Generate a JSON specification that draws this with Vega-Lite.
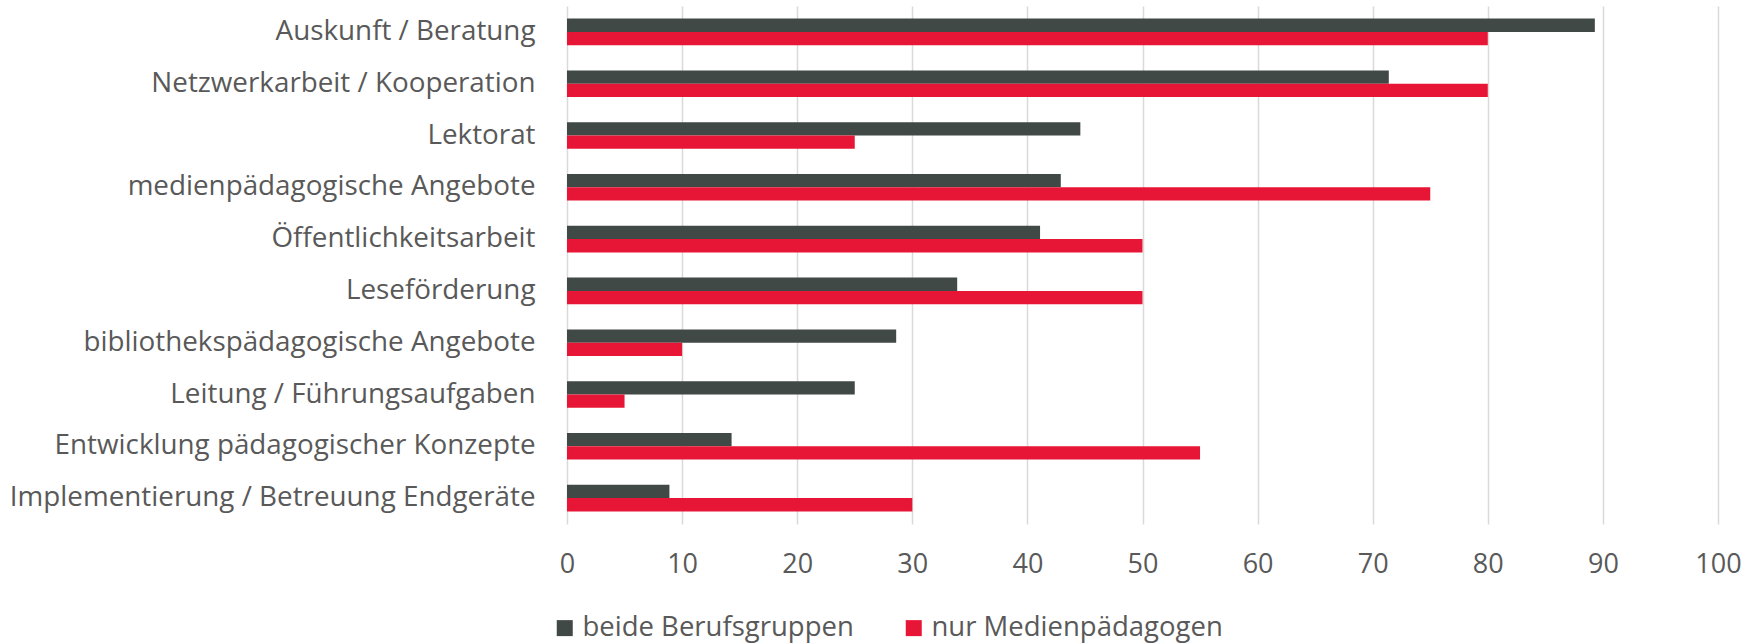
{
  "$schema": "https://vega.github.io/schema/vega-lite/v6.json",
  "width": 1151,
  "height": 518,
  "autosize": {"type": "none"},
  "padding": {"left": 567, "top": 6, "right": 40, "bottom": 120},
  "background": "white",
  "config": {
    "view": {"stroke": null},
    "font": "Open Sans",
    "axis": {"labelColor": "#595959", "labelFont": "Open Sans"},
    "legend": {"labelColor": "#595959", "labelFont": "Open Sans"}
  },
  "data": {
    "values": [
      {"Aufgabe": "Auskunft / Beratung", "Gruppe": "beide Berufsgruppen", "Wert": 89.3},
      {"Aufgabe": "Auskunft / Beratung", "Gruppe": "nur Medienpädagogen", "Wert": 80},
      {"Aufgabe": "Netzwerkarbeit / Kooperation", "Gruppe": "beide Berufsgruppen", "Wert": 71.4},
      {"Aufgabe": "Netzwerkarbeit / Kooperation", "Gruppe": "nur Medienpädagogen", "Wert": 80},
      {"Aufgabe": "Lektorat", "Gruppe": "beide Berufsgruppen", "Wert": 44.6},
      {"Aufgabe": "Lektorat", "Gruppe": "nur Medienpädagogen", "Wert": 25},
      {"Aufgabe": "medienpädagogische Angebote", "Gruppe": "beide Berufsgruppen", "Wert": 42.9},
      {"Aufgabe": "medienpädagogische Angebote", "Gruppe": "nur Medienpädagogen", "Wert": 75},
      {"Aufgabe": "Öffentlichkeitsarbeit", "Gruppe": "beide Berufsgruppen", "Wert": 41.1},
      {"Aufgabe": "Öffentlichkeitsarbeit", "Gruppe": "nur Medienpädagogen", "Wert": 50},
      {"Aufgabe": "Leseförderung", "Gruppe": "beide Berufsgruppen", "Wert": 33.9},
      {"Aufgabe": "Leseförderung", "Gruppe": "nur Medienpädagogen", "Wert": 50},
      {"Aufgabe": "bibliothekspädagogische Angebote", "Gruppe": "beide Berufsgruppen", "Wert": 28.6},
      {"Aufgabe": "bibliothekspädagogische Angebote", "Gruppe": "nur Medienpädagogen", "Wert": 10},
      {"Aufgabe": "Leitung / Führungsaufgaben", "Gruppe": "beide Berufsgruppen", "Wert": 25},
      {"Aufgabe": "Leitung / Führungsaufgaben", "Gruppe": "nur Medienpädagogen", "Wert": 5},
      {"Aufgabe": "Entwicklung pädagogischer Konzepte", "Gruppe": "beide Berufsgruppen", "Wert": 14.3},
      {"Aufgabe": "Entwicklung pädagogischer Konzepte", "Gruppe": "nur Medienpädagogen", "Wert": 55},
      {"Aufgabe": "Implementierung / Betreuung Endgeräte", "Gruppe": "beide Berufsgruppen", "Wert": 8.9},
      {"Aufgabe": "Implementierung / Betreuung Endgeräte", "Gruppe": "nur Medienpädagogen", "Wert": 30}
    ]
  },
  "mark": {"type": "bar"},
  "encoding": {
    "y": {
      "field": "Aufgabe",
      "type": "nominal",
      "sort": null,
      "scale": {"paddingInner": 0.487, "paddingOuter": 0.2435},
      "axis": {
        "title": null,
        "ticks": false,
        "domain": false,
        "labelFontSize": 27.8,
        "labelPadding": 32,
        "labelLimit": 800
      }
    },
    "yOffset": {
      "field": "Gruppe",
      "type": "nominal",
      "sort": ["beide Berufsgruppen", "nur Medienpädagogen"]
    },
    "x": {
      "field": "Wert",
      "type": "quantitative",
      "scale": {"domain": [0, 100], "nice": false},
      "axis": {
        "title": null,
        "values": [0, 10, 20, 30, 40, 50, 60, 70, 80, 90, 100],
        "ticks": false,
        "domain": false,
        "grid": true,
        "gridColor": "#d9d9d9",
        "gridWidth": 1.5,
        "labelFlush": false,
        "labelFontSize": 27,
        "labelPadding": 27
      }
    },
    "color": {
      "field": "Gruppe",
      "type": "nominal",
      "sort": ["beide Berufsgruppen", "nur Medienpädagogen"],
      "scale": {
        "domain": ["beide Berufsgruppen", "nur Medienpädagogen"],
        "range": ["#414947", "#e81636"]
      },
      "legend": {
        "title": null,
        "orient": "none",
        "direction": "horizontal",
        "legendX": -16,
        "legendY": 608,
        "padding": 0,
        "symbolType": "square",
        "symbolSize": 256,
        "symbolStrokeWidth": 0,
        "labelFontSize": 27.5,
        "labelLimit": 600,
        "labelOffset": 4,
        "columnPadding": 46
      }
    }
  }
}
